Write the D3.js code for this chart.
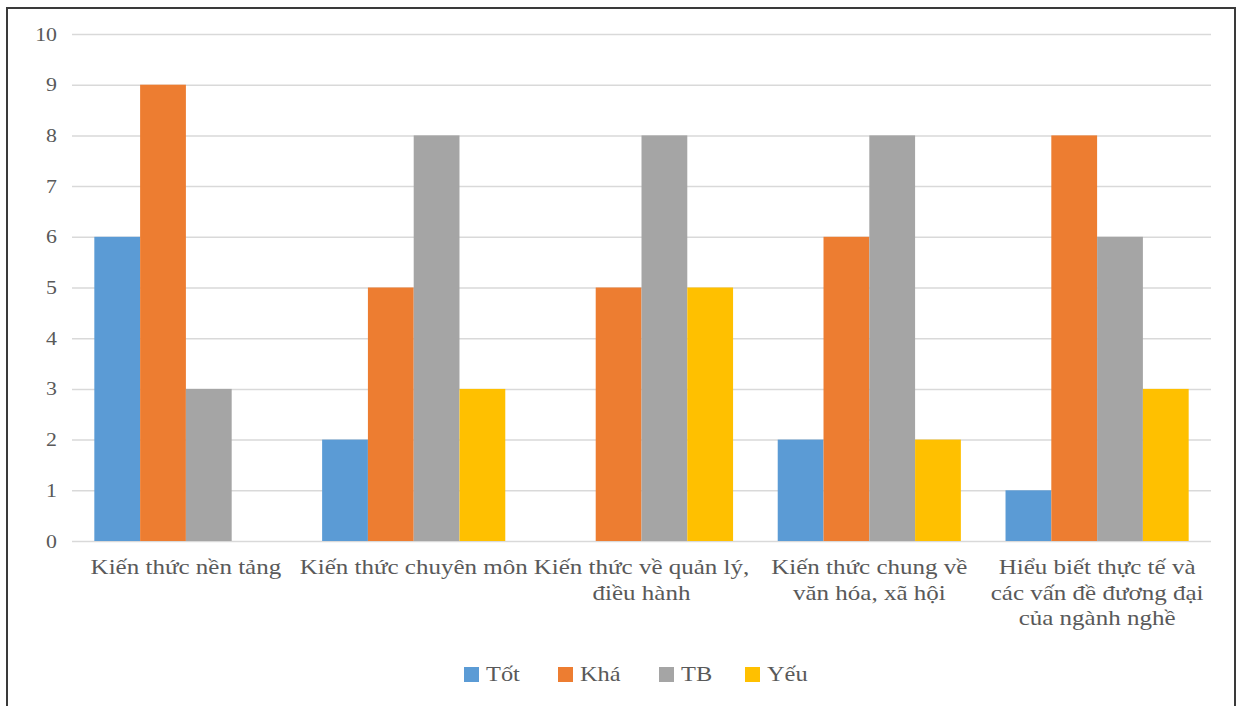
<!DOCTYPE html>
<html><head><meta charset="utf-8">
<script src="https://cdn.jsdelivr.net/npm/d3@7"></script>
<style>html,body{margin:0;padding:0;background:#fff;}svg{display:block;}</style>
</head><body>
<script>
const categories = [
  ["Kiến thức nền tảng"],
  ["Kiến thức chuyên môn"],
  ["Kiến thức về quản lý,", "điều hành"],
  ["Kiến thức chung về", "văn hóa, xã hội"],
  ["Hiểu biết thực tế và", "các vấn đề đương đại", "của ngành nghề"]
];
const seriesNames = ["Tốt", "Khá", "TB", "Yếu"];
const tot = [6, 2, 0, 2, 1];
const kha = [9, 5, 5, 6, 8];
const tb  = [3, 8, 8, 8, 6];
const yeu = [0, 3, 5, 2, 3];
const yTicks = [0,1,2,3,4,5,6,7,8,9,10];
const colors = ["#5B9BD5", "#ED7D31", "#A5A5A5", "#FFC000"];

(function(){
const series = [tot, kha, tb, yeu];
const W = 1240, H = 706;
const svg = d3.select("body").append("svg").attr("width", W).attr("height", H);
svg.append("rect").attr("width", W).attr("height", H).attr("fill", "#fff");
svg.append("rect").attr("x", 7).attr("y", 8).attr("width", 1228).attr("height", 720)
  .attr("fill", "none").attr("stroke", "#3a3a3a").attr("stroke-width", 2);

const font = "'Liberation Serif','Times New Roman',serif";
const sx = 1.22;
const pL = 72, pR = 1211, pT = 34, pB = 541;
const catIdx = categories.map((d, i) => i);
const x0 = d3.scaleBand().domain(catIdx).range([pL, pR]).paddingInner(0.196).paddingOuter(0.098);
const x1 = d3.scaleBand().domain(d3.range(series.length)).range([0, x0.bandwidth()]);
const y = d3.scaleLinear().domain([0, 10]).range([pB, pT]);

const grid = svg.append("g").attr("transform", `translate(${pL},0)`)
  .call(d3.axisLeft(y).tickValues(yTicks).tickSize(-(pR - pL)).tickFormat(""));
grid.select(".domain").remove();
grid.selectAll("line").attr("stroke", "#D9D9D9").attr("stroke-width", 1.5);

const ya = svg.append("g").attr("transform", `translate(${pL},0)`)
  .call(d3.axisLeft(y).tickValues(yTicks).tickSize(0).tickPadding(0));
ya.select(".domain").remove();
ya.selectAll("text").attr("font-family", font).attr("font-size", 19).attr("fill", "#595959")
  .attr("x", -15 / 1.15).attr("transform", "scale(1.15,1)");

const groups = svg.append("g").selectAll("g").data(catIdx).join("g")
  .attr("transform", i => `translate(${x0(i)},0)`);
groups.selectAll("rect").data(i => series.map((s, k) => ({k, v: s[i]}))).join("rect")
  .attr("x", d => x1(d.k)).attr("width", x1.bandwidth())
  .attr("y", d => y(d.v)).attr("height", d => y(0) - y(d.v))
  .attr("fill", d => colors[d.k]);

const xl = svg.append("g");
categories.forEach((lines, i) => {
  const cx = x0(i) + x0.bandwidth() / 2;
  lines.forEach((ln, j) => {
    xl.append("text").attr("text-anchor", "middle")
      .attr("transform", `translate(${cx},${574 + j * 25.5}) scale(${sx},1)`)
      .attr("font-family", font).attr("font-size", 20.5).attr("fill", "#595959").text(ln);
  });
});

const legX = [464, 558, 659, 745];
const lg = svg.append("g");
seriesNames.forEach((n, k) => {
  lg.append("rect").attr("x", legX[k]).attr("y", 667).attr("width", 15).attr("height", 15).attr("fill", colors[k]);
  lg.append("text").attr("transform", `translate(${legX[k] + 22},681) scale(${sx},1)`)
    .attr("font-family", font).attr("font-size", 20).attr("fill", "#595959").text(n);
});
})();
</script>
</body></html>
